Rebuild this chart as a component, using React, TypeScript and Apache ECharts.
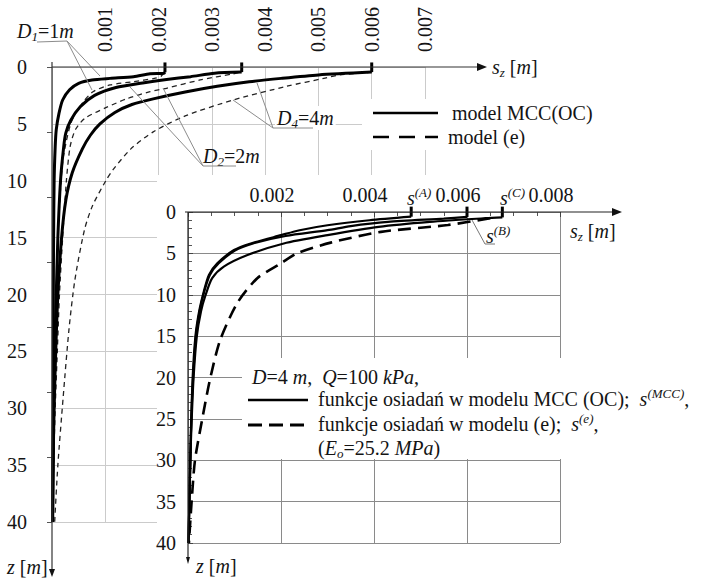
import React, { useEffect, useRef } from 'react';
import * as echarts from 'echarts';

const FONT = 'Liberation Serif';
const INK = '#141414';

// ---------- layout (px) ----------
const MAIN = { left: 52, top: 67, width: 373, height: 455 };
const INSET = { left: 188, top: 212, width: 372, height: 331 };

// ---------- axes ----------
const mainSMax = 0.007;
const mainSStep = 0.001;
const insetSMax = 0.008;
const insetSStep = 0.002;
const depthMax = 40;
const depthStep = 5;
const mainMarkTop = -0.4; // top of the start-value tick (m, above surface)
const insetMarkTop = -0.65;

// ---------- main chart: D1 = 1 m ----------
const zD1mcc = [0.45, 0.56, 0.6, 0.85, 1.0, 1.14, 1.43, 2.0, 2.9, 4.1, 5.5, 7, 10, 15, 20, 30, 40];
const sD1mcc = [0.00212, 0.0021, 0.00184, 0.00153, 0.00109, 0.00075, 0.0005, 0.00033, 0.0002, 0.00013, 0.00008, 0.00006, 0.00004, 0.00003, 0.000025, 0.00002, 0.00001];
const zD1e = [0.5, 0.8, 1.0, 1.29, 1.58, 2.17, 3.05, 4.0, 5, 6.5, 8, 10, 15, 20, 25, 30, 35, 40];
const sD1e = [0.0021, 0.00205, 0.00192, 0.00153, 0.00109, 0.00077, 0.00059, 0.00045, 0.00035, 0.00027, 0.00021, 0.00017, 0.00011, 0.00008, 0.00006, 0.00004, 0.00003, 0.00001];

// ---------- main chart: D2 = 2 m ----------
const zD2mcc = [0.45, 0.55, 0.85, 1.1, 1.4, 1.8, 2.5, 3.5, 4.7, 5.8, 7, 10, 15, 20, 25, 30, 35, 40];
const sD2mcc = [0.00356, 0.00305, 0.0026, 0.00215, 0.0017, 0.0012, 0.0008, 0.00053, 0.00035, 0.00026, 0.00022, 0.00016, 0.00011, 0.00008, 0.00005, 0.00003, 0.00002, 0.00001];
const zD2e = [0.5, 0.6, 1.14, 1.87, 2.17, 2.8, 3.6, 4.5, 5.5, 7, 10, 15, 20, 25, 30, 35, 40];
const sD2e = [0.0035, 0.0034, 0.00278, 0.00215, 0.00184, 0.0014, 0.001, 0.00062, 0.00044, 0.00034, 0.00027, 0.0002, 0.00014, 0.0001, 0.00006, 0.00003, 0.00001];

// ---------- main chart: D4 = 4 m ----------
const zD4mcc = [0.45, 0.7, 1.0, 1.3, 1.7, 2.2, 2.8, 3.3, 4.0, 5.0, 6.0, 7.2, 9.3, 11.7, 15, 20, 25, 30, 35, 40];
const sD4mcc = [0.006, 0.005, 0.0043, 0.0037, 0.0031, 0.0025, 0.0019, 0.0015, 0.00118, 0.0009, 0.00072, 0.00057, 0.00038, 0.00026, 0.00018, 0.00011, 0.00007, 0.00004, 0.00002, 0.00001];
const zD4e = [0.45, 0.7, 1.0, 1.7, 2.9, 4.3, 5.7, 7.2, 9.0, 10, 12.2, 14.3, 18.7, 23, 29, 35, 40];
const sD4e = [0.006, 0.0054, 0.0051, 0.0044, 0.0034, 0.0025, 0.0019, 0.00148, 0.00115, 0.00101, 0.00076, 0.00061, 0.00043, 0.00032, 0.00021, 0.00011, 0.00005];

// ---------- inset: D = 4 m, Q = 100 kPa ----------
const zA = [0.57, 1.0, 1.6, 2.2, 2.8, 3.8, 4.6, 6.2, 7.6, 9.6, 12, 15, 20, 25, 30, 35, 40];
const sA = [0.0048, 0.0039, 0.003, 0.0024, 0.002, 0.00135, 0.00099, 0.00063, 0.00045, 0.00034, 0.00024, 0.00016, 0.0001, 0.00007, 0.00005, 0.00003, 0.00001];
const zB = [0.6, 0.8, 1.2, 1.7, 2.2, 2.9, 3.8, 4.7, 6.2, 7.6, 9.6, 12, 15, 20, 25, 30, 35, 40];
const sB = [0.006, 0.0055, 0.0043, 0.0035, 0.003, 0.0021, 0.0014, 0.001, 0.00066, 0.00047, 0.00035, 0.00025, 0.00017, 0.00011, 0.00007, 0.00005, 0.00003, 0.00001];
const zC = [0.65, 0.75, 1.2, 1.8, 2.8, 3.8, 5.2, 6.6, 8, 10, 12, 15, 20, 25, 30, 35, 40];
const sC = [0.00676, 0.0064, 0.0052, 0.0041, 0.003, 0.00206, 0.00128, 0.00077, 0.00052, 0.00038, 0.00028, 0.00019, 0.00012, 0.00008, 0.00005, 0.00003, 0.00001];
const zE = [0.75, 1.57, 2.4, 3.7, 5, 6.2, 8, 11, 15.5, 20.3, 25.2, 30, 34.8, 40];
const sE = [0.0065, 0.00559, 0.00415, 0.00307, 0.00234, 0.002, 0.00149, 0.00106, 0.00069, 0.00047, 0.0003, 0.00015, 0.00008, 0.00002];

const pairs = (s: number[], z: number[]) => s.map((v, i) => [v, z[i]]);

const rich: any = {
  i: { fontStyle: 'italic', fontFamily: FONT, fontSize: 20, lineHeight: 24, fill: INK },
  n: { fontFamily: FONT, fontSize: 20, lineHeight: 24, fill: INK },
  sub: { fontStyle: 'italic', fontFamily: FONT, fontSize: 13, lineHeight: 12, verticalAlign: 'bottom', fill: INK },
  sup: { fontStyle: 'italic', fontFamily: FONT, fontSize: 13, lineHeight: 12, verticalAlign: 'top', fill: INK },
};

// wrap untagged runs in {n|...} so every run carries the serif font
function wrapRich(text: string) {
  const out: string[] = [];
  const re = /\{(\w+)\|([^}]*)\}/g;
  let last = 0;
  let m: RegExpExecArray | null;
  while ((m = re.exec(text))) {
    if (m.index > last) out.push('{n|' + text.slice(last, m.index) + '}');
    out.push(m[0]);
    last = m.index + m[0].length;
  }
  if (last < text.length) out.push('{n|' + text.slice(last) + '}');
  return out.join('');
}

function txt(x: number, y: number, text: string, z = 9, extra: any = {}) {
  return {
    type: 'text', x, y, z, silent: true,
    style: { text: wrapRich(text), fontFamily: FONT, fontSize: 20, lineHeight: 24, fill: INK, align: 'left', verticalAlign: 'middle', rich, ...extra },
  };
}
function seg(x1: number, y1: number, x2: number, y2: number, z: number, stroke = '#8c8c8c', lineWidth = 1, lineDash?: number[]) {
  return { type: 'line', z, silent: true, shape: { x1, y1, x2, y2 }, style: { stroke, lineWidth, lineDash } };
}
function tri(points: number[][], z: number) {
  return { type: 'polygon', z, silent: true, shape: { points }, style: { fill: '#111' } };
}

export default function App() {
  const ref = useRef<HTMLDivElement>(null);
  useEffect(() => {
    if (!ref.current) return;
    const chart = echarts.init(ref.current, undefined, { renderer: 'svg' });

    const labelBase = { fontFamily: FONT, fontSize: 20, color: INK };
    const fmt3 = (v: number) => (v === 0 ? '' : v.toFixed(3));

    const mainLine = (s: number[], z: number[], dashed: boolean) => ({
      type: 'line', xAxisIndex: 0, yAxisIndex: 0, data: pairs(s, z), symbol: 'none', showSymbol: false,
      clip: false, smooth: 0.25, z: 2, silent: true,
      lineStyle: dashed ? { color: '#222', width: 1.3, type: [5, 4] } : { color: '#000', width: 3 },
    });
    const mainMark = (s: number[], z: number[]) => ({
      type: 'line', xAxisIndex: 0, yAxisIndex: 0, data: [[s[0], mainMarkTop], [s[0], z[0]]], symbol: 'none',
      clip: false, z: 2, silent: true, lineStyle: { color: '#000', width: 3 },
    });
    const insetLine = (s: number[], z: number[], dashed: boolean) => ({
      type: 'line', xAxisIndex: 1, yAxisIndex: 2, data: pairs(s, z), symbol: 'none', showSymbol: false,
      clip: false, smooth: 0.25, z: 7, silent: true,
      lineStyle: dashed ? { color: '#000', width: 2.6, type: [13, 7] } : { color: '#000', width: 2.2 },
    });
    const insetMark = (s: number[], z: number[]) => ({
      type: 'line', xAxisIndex: 1, yAxisIndex: 2, data: [[s[0], insetMarkTop], [s[0], z[0]]], symbol: 'none',
      clip: false, z: 7, silent: true, lineStyle: { color: '#000', width: 3 },
    });

    const mx = MAIN.left, my = MAIN.top;
    const ix = INSET.left, iy = INSET.top;

    const graphics: any[] = [
      // left legend background & entries
      { type: 'rect', z: 3, silent: true, shape: { x: 362, y: 99, width: 245, height: 51 }, style: { fill: '#fff' } },
      seg(373, 113, 438, 113, 4, '#000', 2.5),
      seg(373, 137, 438, 137, 4, '#000', 2.5, [16, 10]),
      txt(452, 113, 'model MCC(OC)', 4),
      txt(448, 137, 'model (e)', 4),
      // D labels with leaders
      txt(17, 31, '{i|D}{sub|1}=1{i|m}', 4),
      seg(37, 42, 67, 41, 4), seg(67, 41, 100, 76, 4), seg(67, 41, 92, 90, 4),
      txt(203, 156, '{i|D}{sub|2}=2{i|m}', 4),
      seg(203, 166, 236, 166, 4), seg(203, 166, 130, 87, 4), seg(203, 166, 163, 88, 4),
      txt(275, 118, '{i|D}{sub|4}=4{i|m}', 4, { backgroundColor: '#fff', padding: [0, 2, 0, 2] }),
      seg(273, 128, 313, 128, 4), seg(273, 128, 257, 83, 4), seg(273, 128, 233, 100, 4),
      // main axes (lines with arrows)
      seg(mx, my, 480, my, 4, '#333', 1.2),
      tri([[477, my - 4], [477, my + 4], [487, my]], 4),
      txt(492, my, '{i|s}{sub|z} [{i|m}]', 4),
      seg(mx, my - 5, mx, 572, 4, '#333', 1.2),
      tri([[mx - 3, 569], [mx + 3, 569], [mx, 577]], 4),
      txt(7, 567, '{i|z} [{i|m}]', 4),
      // inset background
      { type: 'rect', z: 5, silent: true, shape: { x: 157, y: 175, width: 555, height: 408 }, style: { fill: '#fff' } },
      // inset axes
      seg(ix - 3, iy, 614, iy, 9, '#222', 1.2),
      tri([[612, iy - 4], [612, iy + 4], [622, iy]], 9),
      txt(570, iy + 19, '{i|s}{sub|z} [{i|m}]', 9),
      seg(ix, iy, ix, 560, 9, '#222', 1.2),
      tri([[ix - 2, 557], [ix + 2, 557], [ix, 564]], 9),
      txt(196, 566, '{i|z} [{i|m}]', 9),
      // inset curve labels
      txt(407, 198, '{i|s}{sup|(A)}', 9),
      txt(500, 198, '{i|s}{sup|(C)}', 9),
      txt(486, 236, '{i|s}{sup|(B)}', 9),
      { type: 'polyline', z: 9, silent: true, shape: { points: [[472, 220], [485, 244], [495, 244]] }, style: { stroke: '#777', lineWidth: 1, fill: null } },
      // inset legend
      { type: 'rect', z: 8, silent: true, shape: { x: 242, y: 358, width: 470, height: 101 }, style: { fill: '#fff' } },
      txt(252, 377, '{i|D}=4 {i|m},  {i|Q}=100 {i|kPa},', 9),
      seg(248, 400, 308, 400, 9, '#000', 2.5),
      txt(318, 399, 'funkcje osiadań w modelu MCC (OC);  {i|s}{sup|(MCC)},', 9),
      seg(248, 425, 308, 425, 9, '#000', 3, [14, 7]),
      txt(318, 424, 'funkcje osiadań w modelu (e);  {i|s}{sup|(e)},', 9),
      txt(318, 448, '({i|E}{sub|o}=25.2 {i|MPa})', 9),
    ];

    chart.setOption({
      animation: false,
      backgroundColor: '#fff',
      textStyle: { fontFamily: FONT },
      grid: [
        { ...MAIN, containLabel: false, outerBoundsMode: 'none' },
        { ...INSET, containLabel: false, outerBoundsMode: 'none' },
      ],
      xAxis: [
        {
          gridIndex: 0, type: 'value', position: 'top', min: 0, max: mainSMax, interval: mainSStep, z: 0,
          axisLine: { show: false }, axisTick: { show: false },
          splitLine: { lineStyle: { color: '#cbcbcb', width: 1 } },
          axisLabel: { ...labelBase, rotate: 90, margin: 15, formatter: fmt3 },
        },
        {
          gridIndex: 1, type: 'value', position: 'top', min: 0, max: insetSMax, interval: insetSStep, z: 6,
          axisLine: { show: false },
          axisTick: { show: true, inside: true, length: 5, lineStyle: { color: '#444' } },
          minorTick: { show: true, splitNumber: 4, length: 4, lineStyle: { color: '#555' } },
          splitLine: { lineStyle: { color: '#8a8a8a', width: 1 } },
          axisLabel: { ...labelBase, margin: 7, padding: [0, 18, 0, 0], formatter: fmt3 },
        },
      ],
      yAxis: [
        {
          gridIndex: 0, type: 'value', inverse: true, min: 0, max: depthMax, interval: depthStep, z: 0,
          axisLine: { show: false }, axisTick: { show: false },
          splitLine: { lineStyle: { color: '#cbcbcb', width: 1 } },
          axisLabel: { ...labelBase, margin: 25 },
        },
        {
          gridIndex: 0, type: 'value', inverse: true, min: 0, max: depthMax, interval: depthMax / 7, position: 'left', z: 0,
          axisLine: { show: false }, axisLabel: { show: false }, splitLine: { show: false },
          axisTick: { show: true, length: 5, lineStyle: { color: '#555' } },
        },
        {
          gridIndex: 1, type: 'value', inverse: true, min: 0, max: depthMax, interval: depthStep, z: 6,
          axisLine: { show: false },
          axisTick: { show: true, inside: true, length: 5, lineStyle: { color: '#444' } },
          minorTick: { show: true, splitNumber: 5, length: 4, lineStyle: { color: '#555' } },
          splitLine: { lineStyle: { color: '#8a8a8a', width: 1 } },
          axisLabel: { ...labelBase, margin: 12 },
        },
      ],
      series: [
        mainLine(sD1e, zD1e, true),
        mainLine(sD2e, zD2e, true),
        mainLine(sD4e, zD4e, true),
        mainLine(sD1mcc, zD1mcc, false),
        mainLine(sD2mcc, zD2mcc, false),
        mainLine(sD4mcc, zD4mcc, false),
        mainMark(sD1mcc, zD1mcc),
        mainMark(sD2mcc, zD2mcc),
        mainMark(sD4mcc, zD4mcc),
        insetLine(sE, zE, true),
        insetLine(sA, zA, false),
        insetLine(sB, zB, false),
        insetLine(sC, zC, false),
        insetMark(sA, zA),
        insetMark(sB, zB),
        insetMark(sC, zC),
      ],
      graphic: { elements: graphics },
    });

    return () => chart.dispose();
  }, []);

  return (
    <div
      ref={ref}
      style={{ position: 'fixed', left: 0, top: 0, width: 712, height: 583, background: '#fff' }}
    />
  );
}
